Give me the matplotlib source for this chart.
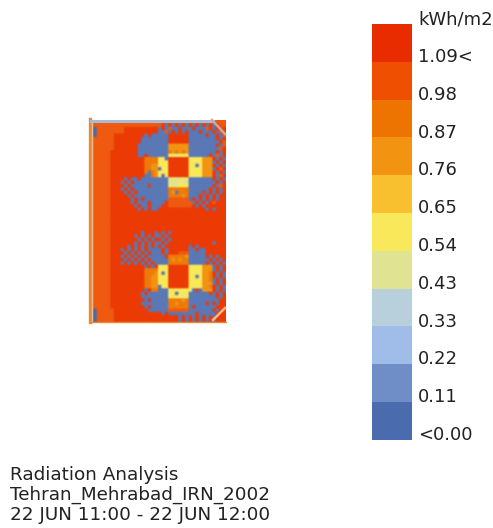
import matplotlib
matplotlib.use("Agg")
import matplotlib.pyplot as plt
from matplotlib.colors import ListedColormap, BoundaryNorm

legend_labels = ["<0.00", "0.11", "0.22", "0.33", "0.43", "0.54", "0.65", "0.76", "0.87", "0.98", "1.09<"]
legend_colors = ["#4A6BAE", "#6F8DC6", "#A0BCE8", "#B8D0DC", "#E0E492", "#F9E85A",
                 "#F8C02F", "#F29312", "#EE7400", "#EE4F00", "#E92C00"]
map_colors = ["#4A6BAE", "#5A78B6", "#A0BCE8", "#B8D0DC", "#E0E492", "#F9E85A",
              "#F8C02F", "#F29312", "#EE7A08", "#F05A10", "#EC3A04"]
unit_label = "kWh/m2"
footer_lines = ["Radiation Analysis", "Tehran_Mehrabad_IRN_2002", "22 JUN 11:00 - 22 JUN 12:00"]

# Radiation level index per grid cell (0-9, a = 10)
grid_rows = [
    "9999999999" "9999999999" "9999999999" "9999999999",
    "9999999999" "9999999999" "9a1a1a1a1a" "1a1a1a1a99",
    "0099999999" "aaaaaaaaaa" "1a1911a111" "a1119a1a9a",
    "0099999999" "aaaaaaaaaa" "1191a1a1a1" "11a111a19a",
    "0099999aaa" "aaaaaa1a11" "111aaaaaa1" "1111a11a19",
    "9999999aaa" "aaaaa11111" "111aaaaaa1" "1111111a1a",
    "9999999aaa" "aaaaa11111" "111aaaaaa1" "11111111a9",
    "9999999aaa" "aaaa111111" "1117777771" "1111111a19",
    "9999999aaa" "aaaa111111" "1117777771" "111111119a",
    "999999aaaa" "aaaa111111" "1118787871" "1111111a1a",
    "999999aaaa" "aaaa11a111" "1115545551" "11111a191a",
    "999999aaaa" "aaaaaa8888" "551aaaaaa5" "555777a1a1",
    "999999aaaa" "aaaaaa8888" "555aaaaaa5" "5557771a1a",
    "999999aaaa" "aaaaaa8877" "555aaaaaa5" "515777a1a1",
    "999999aaaa" "aaaaaa8877" "155aaaaaa5" "5557771a9a",
    "999999aaaa" "aaaaaa8187" "555aaaaaa5" "555777a1a1",
    "999999aaaa" "aaaaaa1187" "515aaaaaa5" "555777a19a",
    "999999aaaa" "1a11a11111" "1114544541" "111111a1a1",
    "999999aaa1" "a1a1111111" "1114445441" "1111111a1a",
    "999999aaaa" "1a11111a11" "1115445551" "111111a19a",
    "999999aaa1" "a1a1111111" "1118888881" "11111a1a1a",
    "999999aaaa" "1a1a111111" "1118718881" "111a1a1a1a",
    "999999aaaa" "a1a1111111" "1118888781" "11a1a1a1aa",
    "999999aaaa" "aa1a1a1111" "1119999991" "a1a1a1a1aa",
    "999999aaaa" "aa1a111a11" "11a9999999" "1a1a1a9aaa",
    "999999aaaa" "aaa1a11a11" "1aa9999999" "a1a1aaaaaa",
    "999999aaaa" "aaaa1a1a11" "aaaaaaaaaa" "aaaa1a1aaa",
    "999999aaaa" "aaaaaaaaaa" "aaaaaaaaaa" "aaaaaaaaaa",
    "999999aaaa" "aaaaaaaaaa" "aaaaaaaaaa" "aaaaaaaaaa",
    "999999aaaa" "aaaaaaaaaa" "aaaaaaaaaa" "aaaaaaaaaa",
    "999999aaaa" "aaaaaaaaaa" "aaaaaaaaaa" "aaaaaaaaaa",
    "999999aaaa" "aaaaaaaaaa" "aaaaaaaaaa" "aaaaaaaaaa",
    "999999aaaa" "aaaaaaaaaa" "aaaaaaaaaa" "aaaaaaaaaa",
    "999999aaaa" "aaaaa1aaa1" "a1a1aaaaaa" "aaaaaaaaaa",
    "999999aaaa" "aaa1a1a1a1" "1a1aaaaaaa" "aaaaaaaaaa",
    "999999aaaa" "aaaa1a1a1a" "a1a1aaaaaa" "aaaaaaaaaa",
    "999999aaaa" "aaa1a1a1a1" "1a1aaaaaaa" "aaaaaa1aaa",
    "999999aaaa" "a1a1a1a1a1" "a1aaaaaaa1" "a1aaaaaaaa",
    "999999aaa1" "a1a1a1a111" "1a1aaaaaa1" "1a11aaaaaa",
    "999999aaaa" "1a1a1a1a11" "1a1aaa9991" "1111aaaaaa",
    "999999aaa1" "a1a1a1a111" "11a8888871" "1111a1a1aa",
    "999999aaaa" "1a1a1a1a11" "1118787881" "11111a1a1a",
    "999999aaa1" "a1a1a1a1a1" "1118888881" "1111a1a1a1",
    "999999aaaa" "aaaaaa1a1a" "555aaaaaa5" "5557771a1a",
    "999999aaaa" "aaaaaa8888" "555aaaaaa5" "5557771a1a",
    "999999aaaa" "aaaaaa8887" "515aaaaaa5" "555778a1a1",
    "999999aaaa" "aaaaaa8877" "555aaaaaa5" "515778a1a1",
    "999999aaaa" "aaaaaa8877" "555aaaaaa5" "5557781a1a",
    "999999aaaa" "aaaaaa8877" "555aaaaaa5" "5557771a1a",
    "999999aaaa" "aaaaaa8877" "155aaaaaa5" "555778a1a1",
    "999999aaaa" "aaaaaa1a88" "1115555555" "1a1777a1a1",
    "999999aaaa" "aaaaa1a111" "1115515551" "11111a1a1a",
    "999999aaaa" "aaaaa11111" "1115555451" "1111111a1a",
    "999999aaaa" "aaaaaa1a11" "1118888781" "11111111aa",
    "999999aaaa" "aaaaa11111" "1118878881" "1111a1a1aa",
    "999999aaaa" "aaaaaa1a11" "1118888881" "a111111aaa",
    "0099999aaa" "aaaaaaa111" "1119999991" "111111a1aa",
    "0099999aaa" "aaaaaaaaaa" "a1a1111111" "1a11111aaa",
    "0099999aaa" "aaaaaaaaaa" "aaaaaa1a1a" "1a1a1a1aaa",
    "0099999aaa" "aaaaaaaaaa" "aaaaaa1a1a" "1a1a1a1aaa",
]
grid_values = [[int(ch, 16) for ch in row] for row in grid_rows]

fig = plt.figure(figsize=(4.93, 5.28), dpi=100)
ax = fig.add_axes([0, 0, 1, 1])

cmap = ListedColormap(map_colors)
norm = BoundaryNorm([i - 0.5 for i in range(12)], 11)
ax.imshow(grid_values, cmap=cmap, norm=norm, extent=(90, 226, 322, 120),
          interpolation="hanning", interpolation_stage="rgba", aspect="auto", zorder=1)
ax.set_xlim(0, 493)
ax.set_ylim(528, 0)
ax.axis("off")

# Building edges
ax.plot([89.5, 89.5], [119, 322], color="#E98A33", lw=2.4, zorder=2)
ax.plot([92, 92], [122, 321], color="#F0BE90", lw=1.0, zorder=2)
ax.plot([91, 213], [120.5, 120.5], color="#A9BAD6", lw=2.2, zorder=2)
ax.plot([90, 226], [321.5, 321.5], color="#E98A33", lw=1.0, zorder=2)
ax.plot([212, 225], [120, 134], color="#C9A99A", lw=1.8, zorder=2)
ax.plot([213, 225], [320, 308], color="#F3B98A", lw=1.8, zorder=2)

# Legend swatches
swatch_top, swatch_h = 24.0, 37.8
for i, (label, color) in enumerate(zip(legend_labels[::-1], legend_colors[::-1])):
    y0 = swatch_top + i * swatch_h
    ax.bar(391.5, swatch_h, width=40, bottom=y0, color=color, linewidth=0, zorder=1)
    ax.text(418, y0 + 33, label, fontsize=13, color="#222222", va="center", ha="left",
            family="DejaVu Sans")
ax.text(418, 20, unit_label, fontsize=13, color="#222222", va="center", ha="left",
        family="DejaVu Sans")

for line, y in zip(footer_lines, [475, 495, 515]):
    ax.text(10, y, line, fontsize=13.2, color="#222222", va="center", ha="left",
            family="DejaVu Sans")

fig.savefig("out.png", dpi=100)
